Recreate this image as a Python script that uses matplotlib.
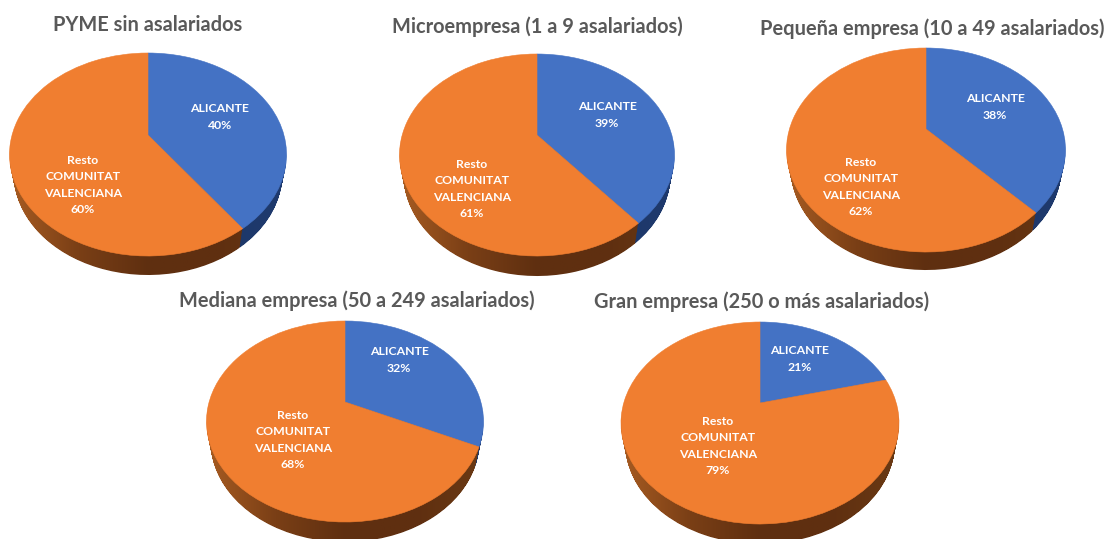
import numpy as np
import matplotlib
matplotlib.use('Agg')
import matplotlib.pyplot as plt
from matplotlib.colors import LinearSegmentedColormap
from matplotlib.path import Path
from matplotlib.transforms import Transform

# datos
titulos = ['PYME sin asalariados', 'Microempresa (1 a 9 asalariados)',
           'Pequeña empresa (10 a 49 asalariados)',
           'Mediana empresa (50 a 249 asalariados)',
           'Gran empresa (250 o más asalariados)']
alicante = [40, 39, 38, 32, 21]
resto = [60, 61, 62, 68, 79]
etiqueta_a = 'ALICANTE'
etiqueta_r = 'Resto\nCOMUNITAT\nVALENCIANA'

# posicion en pixeles de cada tarta
centro_x = [148, 537, 926, 345, 760]
centro_y = [135, 135, 129, 402, 403]
semi_ancho = [138.5, 137.5, 139.5, 138.5, 139]
arriba = [82, 81, 81, 81, 81]
abajo = [121, 121, 123, 120, 121]
grosor = [19, 20, 18, 20, 20]
titulo_x = [148, 537, 932, 357, 762]
titulo_y = [25, 27, 29, 301, 302]
texto_a = [(220, 117), (607, 115), (995, 107), (399, 360), (800, 359)]
texto_r = [(83, 185), (472, 189), (861, 187), (293, 440), (718, 446)]

AZUL = '#4472C4'
NARANJA = '#F07E30'
GRIS = '#595959'
FUENTE = ['Lato', 'DejaVu Sans']
ESTRECHA = 0.03  # la base se ve un poco mas estrecha que la cara de arriba


class Perspectiva(Transform):
    """Circulo unidad -> elipse en perspectiva (coordenadas en pixeles)"""
    input_dims = 2
    output_dims = 2

    def __init__(self, cx, cy, ancho, sup, inf):
        super().__init__()
        self.cx, self.cy = cx, cy
        self.k = (inf - sup) / (inf + sup)
        self.b = sup * (1 + self.k)
        self.a = ancho * np.sqrt(1 - self.k ** 2)

    def transform_non_affine(self, values):
        v = np.asarray(values, dtype=float)
        w = 1 + self.k * v[:, 1]
        return np.column_stack((self.cx + self.a * v[:, 0] / w,
                                self.cy - self.b * v[:, 1] / w))


mapa_naranja = LinearSegmentedColormap.from_list(
    'lado_n', ['#A85C22', '#7A3F16', '#5F2F10', '#5F2F10', '#6B3A14'])
mapa_azul = LinearSegmentedColormap.from_list(
    'lado_a', ['#16294F', '#1B3564', '#1F3A6E'])

plt.rcParams['font.family'] = FUENTE
fig = plt.figure(figsize=(11.16, 5.39), dpi=100, facecolor='white')
ax = fig.add_axes([0, 0, 1, 1])

for i in range(len(titulos)):
    trans = Perspectiva(centro_x[i], centro_y[i], semi_ancho[i], arriba[i], abajo[i])
    wedges, _ = ax.pie([alicante[i], resto[i]], colors=[AZUL, NARANJA],
                       startangle=90, counterclock=False)

    for w, mapa in zip(wedges, [mapa_azul, mapa_naranja]):
        w.set_transform(trans + ax.transData)
        w.set_edgecolor(w.get_facecolor())
        w.set_linewidth(0.4)
        w.set_zorder(3)

        # lado de la tarta: la cara desplazada hacia abajo, con degradado
        cara = trans.transform_path_non_affine(w.get_path())
        capas = []
        for d in range(1, grosor[i] + 1):
            esc = 1 - ESTRECHA * d / grosor[i]
            vert = cara.vertices.copy()
            vert[:, 0] = centro_x[i] + (vert[:, 0] - centro_x[i]) * esc
            vert[:, 1] += d
            capas.append(Path(vert, cara.codes))
        lado = Path.make_compound_path(*capas)
        izq = centro_x[i] - semi_ancho[i] - 2
        der = centro_x[i] + semi_ancho[i] + 2
        im = ax.imshow(np.linspace(0, 1, 256).reshape(1, -1), cmap=mapa, aspect='auto',
                       extent=(izq, der, centro_y[i] + abajo[i] + grosor[i] + 2,
                               centro_y[i] - arriba[i]), zorder=2)
        im.set_clip_path(lado, ax.transData)

    ax.text(titulo_x[i], titulo_y[i], titulos[i], ha='center', va='center',
            fontsize=14.4, fontweight='bold', color=GRIS, zorder=5)
    ax.text(texto_a[i][0], texto_a[i][1], f'{etiqueta_a}\n{alicante[i]}%', ha='center',
            va='center', fontsize=8.8, fontweight='bold', color='white',
            linespacing=1.62, zorder=5)
    ax.text(texto_r[i][0], texto_r[i][1], f'{etiqueta_r}\n{resto[i]}%', ha='center',
            va='center', fontsize=8.8, fontweight='bold', color='white',
            linespacing=1.62, zorder=5)

ax.set_aspect('auto')
ax.set_xlim(0, 1116)
ax.set_ylim(539, 0)
ax.axis('off')

fig.savefig('out.png', dpi=100, facecolor='white')
